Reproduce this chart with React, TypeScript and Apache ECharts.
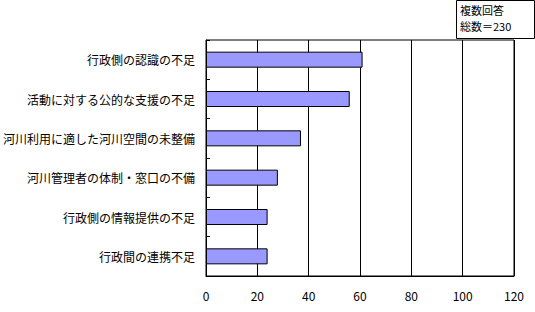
import React, { useEffect, useRef } from "react";
import * as echarts from "echarts";

const categories = [
  "行政側の認識の不足",
  "活動に対する公的な支援の不足",
  "河川利用に適した河川空間の未整備",
  "河川管理者の体制・窓口の不備",
  "行政側の情報提供の不足",
  "行政間の連携不足",
];
const values = [61, 56, 37, 28, 24, 24];
const noteLines = ["複数回答", "総数＝230"];

const FONT = "'Noto Sans CJK JP', sans-serif";

export default function App() {
  const ref = useRef<HTMLDivElement>(null);
  useEffect(() => {
    if (!ref.current) return;
    const chart = echarts.init(ref.current, null, { renderer: "svg" });
    chart.setOption({
      animation: false,
      backgroundColor: "#ffffff",
      textStyle: { fontFamily: FONT },
      grid: {
        left: 204,
        right: 21,
        top: 40,
        bottom: 36,
        show: true,
        borderColor: "#000",
        borderWidth: 1,
        backgroundColor: "transparent",
      },
      xAxis: {
        type: "value",
        min: 0,
        max: 120,
        interval: 20,
        axisLine: { show: true, lineStyle: { color: "#000", width: 1 } },
        axisTick: { show: false },
        splitLine: { show: true, lineStyle: { color: "#000", width: 1 } },
        axisLabel: { color: "#000", fontSize: 12, margin: 13, fontFamily: FONT },
      },
      yAxis: {
        type: "category",
        data: categories,
        inverse: true,
        axisLine: { show: true, lineStyle: { color: "#000", width: 1 } },
        axisTick: { show: true, inside: true, length: 4, lineStyle: { color: "#000" } },
        axisLabel: { color: "#000", fontSize: 12, margin: 11, fontFamily: FONT },
      },
      series: [
        {
          type: "bar",
          data: values,
          barWidth: 16,
          itemStyle: { color: "#9999FF", borderColor: "#000", borderWidth: 1 },
        },
      ],
      graphic: [
        {
          type: "rect",
          shape: { x: 456.5, y: 0.5, width: 78, height: 38 },
          style: { fill: "#fff", stroke: "#000", lineWidth: 1 },
        },
        ...noteLines.map((t, i) => ({
          type: "text",
          x: 460,
          y: 4 + i * 16,
          style: { text: t, fill: "#000", font: `11px ${FONT}` },
        })),
      ],
    });
    return () => chart.dispose();
  }, []);
  return (
    <div
      ref={ref}
      style={{ position: "fixed", left: 0, top: 0, width: 535, height: 312 }}
    />
  );
}
